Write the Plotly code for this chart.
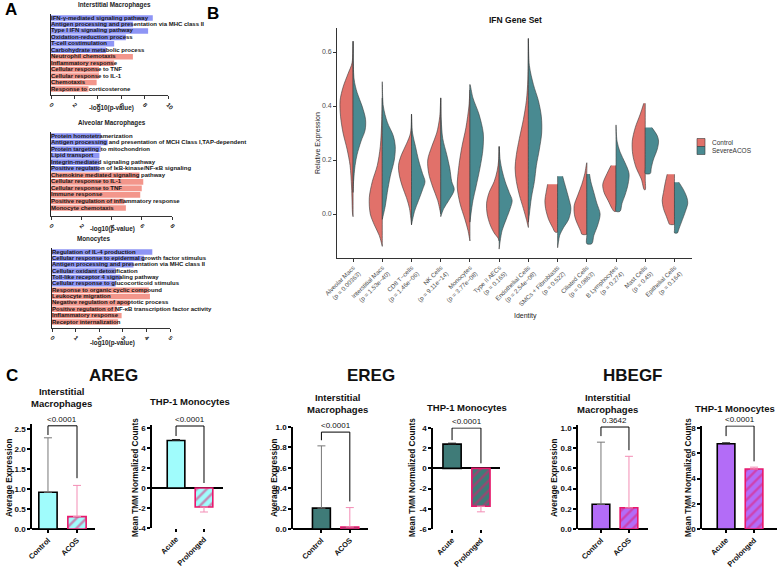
import plotly.graph_objects as go

W, H = 781, 568
FONT = "Liberation Sans, Arial, sans-serif"

def dx(a, b):
    return [a / W, b / W]

def dy(top, bottom):
    return [1 - bottom / H, 1 - top / H]

def px(x):
    return x / W

def py(y):
    return 1 - y / H

# ---------------- Panel A data ----------------
ia_terms = ["IFN-γ-mediated signaling pathway",
            "Antigen processing and presentation via MHC class II",
            "Type I IFN signaling pathway", "Oxidation-reduction process",
            "T-cell costimulation", "Carbohydrate metabolic process",
            "Neutrophil chemotaxis", "Inflammatory response",
            "Cellular response to TNF", "Cellular response to IL-1",
            "Chemotaxis", "Response to corticosterone"]
ia_vals = [8.7, 7.0, 8.3, 6.4, 5.4, 4.7, 7.0, 5.4, 4.1, 4.1, 3.9, 3.2]
ia_group = [0, 0, 0, 0, 0, 0, 1, 1, 1, 1, 1, 1]

aa_terms = ["Protein homotetramerization",
            "Antigen processing and presentation of MCH Class I,TAP-dependent",
            "Protein targeting to mitochondrion", "Lipid transport",
            "Integrin-mediated signaling pathway",
            "Positive regulation of IκB-kinase/NF-κB signaling",
            "Chemokine mediated signaling pathway", "Cellular response to IL-1",
            "Cellular response to TNF", "Immune response",
            "Positive regulation of inflammatory response", "Monocyte chemotaxis"]
aa_vals = [3.3, 3.75, 3.3, 3.2, 3.2, 3.2, 5.85, 6.1, 6.0, 5.9, 4.85, 4.95]
aa_group = [0, 0, 0, 0, 0, 0, 1, 1, 1, 1, 1, 1]

mo_terms = ["Regulation of IL-4 production",
            "Cellular response to epidermal growth factor stimulus",
            "Antigen processing and presentation via MHC class II",
            "Cellular oxidant detoxification",
            "Toll-like receptor 4 signaling pathway",
            "Cellular response to glucocorticoid stimulus",
            "Response to organic cyclic compound", "Leukocyte migration",
            "Negative regulation of apoptotic process",
            "Positive regulation of NF-κB transcription factor activity",
            "Inflammatory response", "Receptor internalization"]
mo_vals = [4.25, 3.9, 3.45, 2.7, 2.9, 2.7, 4.1, 4.15, 3.3, 2.75, 2.95, 2.8]
mo_group = [0, 0, 0, 0, 0, 0, 1, 1, 1, 1, 1, 1]

a_titles = ["Interstitial Macrophages", "Alveolar Macrophages", "Monocytes"]
a_xticks = [[0, 2, 4, 6, 8, 10], [0, 2, 4, 6, 8], [0, 1, 2, 3, 4, 5]]

# ---------------- Panel B data ----------------
cells = ["Alveolar Macs<br>(p = 0.00363)", "Interstitial Macs<br>(p = 1.53e−40)",
         "CD8 T−cells<br>(p = 1.46e−06)", "NK Cells<br>(p = 9.11e−14)",
         "Monocytes<br>(p = 3.77e−08)", "Type II AECs<br>(p = 0.165)",
         "Endothelial Cells<br>(p = 2.54e−08)", "SMCs + Fibroblasts<br>(p = 0.522)",
         "Ciliated Cells<br>(p = 0.0863)", "B Lymphocytes<br>(p = 0.274)",
         "Mast Cells<br>(p = 0.45)", "Epithelial Cells<br>(p = 0.164)"]
groups_b = ["Control", "SevereACOS"]

# density profiles (expression level, relative density) for each half violin
ctrl_y = [
    [0.64, 0.56, 0.52, 0.47, 0.42, 0.36, 0.30, 0.24, 0.18, 0.10, 0.0, -0.01],
    [0.43, 0.35, 0.25, 0.18, 0.12, 0.06, 0.0, -0.04, -0.08, -0.12],
    [0.37, 0.30, 0.26, 0.22, 0.18, 0.14, 0.10, 0.06, 0.02, -0.04],
    [0.43, 0.36, 0.30, 0.25, 0.20, 0.15, 0.10, 0.05, 0.0],
    [0.46, 0.40, 0.32, 0.25, 0.18, 0.10, 0.04, -0.02, -0.06, -0.10],
    [0.25, 0.20, 0.16, 0.12, 0.08, 0.04, 0.0, -0.04, -0.07, -0.09, -0.10],
    [0.65, 0.50, 0.42, 0.35, 0.28, 0.22, 0.17, 0.12, 0.07, 0.02, -0.02, -0.05],
    [0.11, 0.08, 0.05, 0.02, -0.02, -0.05, -0.067],
    [0.19, 0.15, 0.11, 0.07, 0.03, -0.01, -0.04, -0.065, -0.075],
    [0.18, 0.15, 0.11, 0.08, 0.05, 0.02, 0.01],
    [0.41, 0.37, 0.32, 0.27, 0.22, 0.17, 0.13, 0.09],
    [0.147, 0.12, 0.08, 0.05, 0.02, -0.01, -0.03, -0.038],
]
ctrl_d = [
    [0, 1, 5, 10, 13, 12.5, 10, 6, 3, 1.5, 0.5, 0],
    [0, 0.5, 2, 5, 10, 13, 12, 8, 3, 0],
    [0, 1, 5, 10, 13, 12, 9, 5, 2, 0],
    [0, 1, 4, 9, 13, 12, 8, 3, 0],
    [0, 1, 4, 8, 11, 12.7, 10, 5, 2, 0],
    [0, 0.5, 2, 5, 10, 12.6, 12, 9, 5, 1, 0],
    [0, 0.5, 2, 5, 9, 12, 13.3, 12, 9, 5, 2, 0],
    [10, 11.5, 12.7, 12, 9, 5, 2.5],
    [0, 2, 5, 9, 12.7, 12, 9, 6, 5],
    [5, 9, 13.3, 12, 8, 4, 2],
    [1.5, 5, 10, 13, 12.5, 9, 4, 1],
    [7.3, 9, 11, 12.3, 11, 8, 6, 5],
]
sev_y = [
    [0.64, 0.50, 0.45, 0.40, 0.35, 0.31, 0.27, 0.22, 0.18, 0.12, 0.08],
    [0.49, 0.40, 0.34, 0.29, 0.25, 0.20, 0.14, 0.08, 0.03, -0.02],
    [0.37, 0.30, 0.25, 0.20, 0.15, 0.12, 0.09, 0.05, 0.01, -0.04],
    [0.43, 0.35, 0.28, 0.22, 0.17, 0.12, 0.09, 0.05, 0.02, -0.01],
    [0.48, 0.43, 0.37, 0.30, 0.24, 0.17, 0.10, 0.05, 0.0, -0.03],
    [0.25, 0.20, 0.16, 0.12, 0.08, 0.05, 0.02, -0.02, -0.06, -0.10, -0.13],
    [0.65, 0.55, 0.48, 0.42, 0.36, 0.30, 0.24, 0.18, 0.12, 0.06, 0.0, -0.03],
    [0.14, 0.10, 0.06, 0.02, -0.02, -0.05, -0.08, -0.10, -0.125],
    [0.148, 0.12, 0.08, 0.04, 0.0, -0.04, -0.08, -0.11],
    [0.33, 0.27, 0.23, 0.19, 0.15, 0.11, 0.07, 0.04, 0.01],
    [0.32, 0.29, 0.27, 0.24, 0.20, 0.17, 0.15],
    [0.118, 0.09, 0.06, 0.04, 0.01, -0.03, -0.06, -0.07],
]
sev_d = [
    [0, 1, 4, 9, 12.5, 12, 8, 4, 2, 0.5, 0],
    [0, 1, 5, 11, 13, 12, 8, 5, 3, 0],
    [0, 1, 4, 7, 11, 13.5, 11, 7, 3, 0],
    [0, 0.5, 2, 6, 9, 11, 13.5, 8, 3, 0],
    [0, 3, 9, 13.3, 13, 10, 6, 3, 1, 0],
    [0, 1, 3, 6, 10, 13, 11, 7, 3, 1, 0],
    [0, 1, 5, 10, 13, 13.3, 11, 8, 6, 3, 1, 0],
    [5, 8, 11, 13.3, 11, 6, 2, 1, 0],
    [2.7, 4, 7, 10, 13.3, 11, 7, 5],
    [0, 1, 4, 9, 13, 12, 9, 6, 4],
    [6.7, 12, 13.3, 12, 8, 6, 5],
    [4.3, 9, 12.5, 13.3, 11, 7, 4, 3],
]
b_yticks = [0.0, 0.2, 0.4, 0.6]

# ---------------- Panel C data ----------------
genes = ["AREG", "EREG", "HBEGF"]
int_groups = ["Control", "ACOS"]
thp_groups = ["Acute", "Prolonged"]
areg_int_mean = [0.92, 0.31]
areg_int_err = [1.36, 0.78]
areg_thp_mean = [4.75, -1.9]
areg_thp_err = [0.1, 0.5]
ereg_int_mean = [0.205, 0.02]
ereg_int_err = [0.61, 0.19]
ereg_thp_mean = [2.4, -3.75]
ereg_thp_err = [0.1, 0.55]
hbegf_int_mean = [0.245, 0.21]
hbegf_int_err = [0.615, 0.51]
hbegf_thp_mean = [6.75, 4.75]
hbegf_thp_err = [0.08, 0.15]
p_values = ["<0.0001", "<0.0001", "<0.0001", "<0.0001", "0.3642", "<0.0001"]
# bracket: [left leg end, top, right leg end]
brackets = [[2.35, 2.58, 1.27], [5.2, 6.2, 0.5], [0.87, 0.95, 0.27],
            [2.8, 4.0, 0.5], [0.92, 1.01, 0.78], [7.36, 8.16, 5.36]]

# ---------------- styles ----------------
A_BLUE = "#8e95f5"
A_RED = "#f3968b"
V_RED = "#e1716a"
V_TEAL = "#498a91"
PINK = "#e8186c"
PINK_LIGHT = "#f38db5"
GENE_COLORS = {"AREG": "#a0fcfc", "EREG": "#3f7b78", "HBEGF": "#b36cf7"}

fig = go.Figure()
layout = dict(width=W, height=H, margin=dict(l=0, r=0, t=0, b=0, pad=0, autoexpand=False),
              paper_bgcolor="white", plot_bgcolor="white",
              font=dict(family=FONT, color="#111"), showlegend=False)
annotations = []
shapes = []

def note(text, x, y, size, color="#111", angle=0, xanchor="center"):
    annotations.append(dict(text=text, x=px(x), y=py(y), xref="paper", yref="paper",
                            xanchor=xanchor, yanchor="middle", textangle=angle,
                            showarrow=False, font=dict(size=size, color=color, family=FONT)))

# ---------------- Panel A ----------------
a_sets = [(ia_terms, ia_vals, ia_group), (aa_terms, aa_vals, aa_group),
          (mo_terms, mo_vals, mo_group)]
a_xdom = [(51, 168), (51, 172), (52, 170)]
a_ydom = [(14, 95), (132, 216), (248, 328)]
a_rows = [(18, 89), (136, 208), (252, 322)]
a_title_pos = [(114, 5), (112, 123), (93, 239)]
a_xlab_pos = [(111, 108), (112, 229), (112, 343)]
for k, (terms, vals, grp) in enumerate(a_sets):
    n = k + 1
    xa = "x" if n == 1 else f"x{n}"
    ya = "y" if n == 1 else f"y{n}"
    ids = list(range(len(terms)))
    top, bot = a_ydom[k]
    r0, r1 = a_rows[k]
    step = (r1 - r0) / (len(terms) - 1)
    rng = [len(terms) - 1 + (bot - r1) / step, -(r0 - top) / step]
    fig.add_trace(go.Bar(x=vals, y=ids, orientation="h", xaxis=xa, yaxis=ya,
                         marker=dict(color=[A_BLUE if g == 0 else A_RED for g in grp],
                                     line=dict(width=0)),
                         width=0.86, showlegend=False, hoverinfo="skip"))
    fig.add_trace(go.Scatter(x=[0] * len(terms), y=ids, mode="text", text=terms,
                             textposition="middle right", xaxis=xa, yaxis=ya,
                             textfont=dict(size=6, color="#151515", family=FONT, weight="bold"),
                             cliponaxis=False, showlegend=False, hoverinfo="skip"))
    xt = a_xticks[k]
    layout["xaxis" if n == 1 else f"xaxis{n}"] = dict(
        domain=dx(*a_xdom[k]), anchor=ya, range=[0, xt[-1]], tickvals=xt,
        showline=True, linecolor="#333", linewidth=1, ticks="outside", ticklen=3,
        tickwidth=1, tickcolor="#333", tickangle=45, automargin=False,
        tickfont=dict(size=6, family=FONT, color="#222", weight="bold"),
        showgrid=False, zeroline=False)
    layout["yaxis" if n == 1 else f"yaxis{n}"] = dict(
        domain=dy(top, bot), anchor=xa, range=rng, showticklabels=False,
        showline=True, linecolor="#222", linewidth=1.3, ticks="", automargin=False,
        showgrid=False, zeroline=False)
    note("<b>" + a_titles[k] + "</b>", a_title_pos[k][0], a_title_pos[k][1], 6.3, "#222")
    note("<b>-log10(p-value)</b>", a_xlab_pos[k][0], a_xlab_pos[k][1], 6.3, "#222")

# ---------------- Panel B ----------------
VSCALE = 0.455 / 13.3
for i in range(len(cells)):
    for side, ys, ds, col in [(-1, ctrl_y[i], ctrl_d[i], V_RED),
                              (1, sev_y[i], sev_d[i], V_TEAL)]:
        xs = [i + side * d * VSCALE for d in ds] + [i] * len(ys)
        yy = list(ys) + list(ys[::-1])
        fig.add_trace(go.Scatter(x=xs, y=yy, mode="lines", fill="toself",
                                 fillcolor=col, line=dict(color="#3a3a3a", width=0.6,
                                                          shape="spline", smoothing=0.9),
                                 xaxis="x4", yaxis="y4", showlegend=False,
                                 hoverinfo="skip"))
layout["xaxis4"] = dict(domain=dx(337, 692), anchor="y4", range=[-0.55, 11.6],
                        tickvals=list(range(len(cells))), ticktext=cells, tickangle=-45,
                        tickfont=dict(size=6.2, color="#4d4d4d", family=FONT),
                        showline=True, linecolor="#333", linewidth=0.8, ticks="outside",
                        ticklen=3, tickcolor="#333", tickwidth=0.8, showgrid=False,
                        zeroline=False, automargin=False)
layout["yaxis4"] = dict(domain=dy(28, 258), anchor="x4", range=[-0.163, 0.689],
                        tickvals=b_yticks, ticktext=[f"{v:.1f}" for v in b_yticks],
                        tickfont=dict(size=7, color="#4d4d4d", family=FONT),
                        showline=True, linecolor="#333", linewidth=0.8, ticks="outside",
                        ticklen=3, tickcolor="#333", tickwidth=0.8, showgrid=False,
                        zeroline=False, automargin=False)
# legend keys
for j, (g, col) in enumerate(zip(groups_b, [V_RED, V_TEAL])):
    y0 = 138.5 + 8 * j
    shapes.append(dict(type="rect", xref="paper", yref="paper", x0=px(697), x1=px(705),
                       y0=py(y0 + 8), y1=py(y0), fillcolor=col,
                       line=dict(color="#3a3a3a", width=0.6)))
    note(g, 710, y0 + 4, 6.5, "#333", xanchor="left")
note("<b>IFN Gene Set</b>", 487, 20, 8.5, "#111", xanchor="left")
note("Relative Expression", 318, 143, 7, "#222", angle=-90)
note("Identity", 525, 316, 7, "#222")

# ---------------- Panel C ----------------
c_sets = [
    ("AREG", int_groups, areg_int_mean, areg_int_err, [0, 2.62], [0, 0.5, 1.0, 1.5, 2.0, 2.5], 1, (32, 95), (424.2, 529), [-0.55, 1.62]),
    ("AREG", thp_groups, areg_thp_mean, areg_thp_err, [-4, 6.3], [-4, -2, 0, 2, 4, 6], 0, (152, 223), (425, 528), [-0.86, 1.68]),
    ("EREG", int_groups, ereg_int_mean, ereg_int_err, [0, 1.0], [0, 0.2, 0.4, 0.6, 0.8, 1.0], 1, (293, 368), (427, 529), [-1.0, 1.64]),
    ("EREG", thp_groups, ereg_thp_mean, ereg_thp_err, [-6, 4.05], [-6, -4, -2, 0, 2, 4], 0, (433, 500), (427.5, 529), [-0.66, 1.66]),
    ("HBEGF", int_groups, hbegf_int_mean, hbegf_int_err, [0, 1.03], [0, 0.2, 0.4, 0.6, 0.8, 1.0], 1, (578, 648), (425, 529), [-0.82, 1.68]),
    ("HBEGF", thp_groups, hbegf_thp_mean, hbegf_thp_err, [0, 8.2], [0, 2, 4, 6, 8], 0, (702, 777), (425.5, 529), [-0.86, 1.82]),
]
for k, (gene, groups, means, errs, yr, yt, dec, xdm, ydm, xr) in enumerate(c_sets):
    n = 5 + k
    xa, ya = f"x{n}", f"y{n}"
    base = GENE_COLORS[gene]
    for j in range(2):
        up = means[j] >= 0
        if j == 0:
            marker = dict(color=base, line=dict(color="black", width=1.6))
            ecol = "#777777" if k % 2 == 0 else "#222222"
        else:
            marker = dict(color=base, line=dict(color=PINK, width=1.6),
                          pattern=dict(shape="/", fgcolor=PINK, bgcolor=base,
                                       size=7, solidity=0.35, fillmode="overlay"))
            ecol = PINK_LIGHT
        fig.add_trace(go.Bar(x=[j], y=[means[j]], width=0.63, marker=marker,
                             xaxis=xa, yaxis=ya, showlegend=False, hoverinfo="skip",
                             error_y=dict(type="data", symmetric=False,
                                          array=[errs[j] if up else 0],
                                          arrayminus=[0 if up else errs[j]],
                                          color=ecol, thickness=1, width=4)))
    b = brackets[k]
    fig.add_trace(go.Scatter(x=[0, 0, 1, 1], y=[b[0], b[1], b[1], b[2]], mode="lines",
                             line=dict(color="black", width=1), xaxis=xa, yaxis=ya,
                             cliponaxis=False, showlegend=False, hoverinfo="skip"))
    annotations.append(dict(text=p_values[k], x=0.5, y=b[1], xref=xa, yref=ya,
                            xanchor="center", yanchor="bottom", yshift=0, showarrow=False,
                            font=dict(size=8, color="#111", family=FONT)))
    layout[f"xaxis{n}"] = dict(domain=dx(*xdm), anchor=ya, range=xr, tickvals=[0, 1],
                               ticktext=groups, tickangle=-45, showline=False,
                               ticks="outside", ticklen=3, tickwidth=1.5, tickcolor="black",
                               tickfont=dict(size=7.5, family=FONT, color="#111", weight="bold"),
                               showgrid=False, zeroline=False, automargin=False)
    layout[f"yaxis{n}"] = dict(domain=dy(*ydm), anchor=xa, range=yr, tickvals=yt,
                               ticktext=[f"{v:.{dec}f}" for v in yt],
                               showline=True, linecolor="black", linewidth=1.5,
                               ticks="outside", ticklen=3, tickwidth=1.5, tickcolor="black",
                               tickfont=dict(size=8, family=FONT, color="#111", weight="bold"),
                               showgrid=False, zeroline=True, zerolinecolor="black",
                               zerolinewidth=1.5, automargin=False)

gene_pos = [(113, 375), (371, 375), (633, 375)]
for g, (x, y) in zip(genes, gene_pos):
    note(f"<b>{g}</b>", x, y, 17)
sub_titles = [("Interstitial<br>Macrophages", 62, 397), ("THP-1 Monocytes", 190, 402),
              ("Interstitial<br>Macrophages", 337, 403), ("THP-1 Monocytes", 467, 407),
              ("Interstitial<br>Macrophages", 607, 403), ("THP-1 Monocytes", 735, 408)]
for t, x, y in sub_titles:
    note(f"<b>{t}</b>", x, y, 9.5)
ytitles = [("Average Expression", 9, 478), ("Mean TMM Normalized Counts", 135, 478),
           ("Average Expression", 274, 478), ("Mean TMM Normalized Counts", 412, 478),
           ("Average Expression", 554, 478), ("Mean TMM Normalized Counts", 688, 478)]
for t, x, y in ytitles:
    note(f"<b>{t}</b>", x, y, 8.2, angle=-90)

for t, x, y in [("A", 11, 10), ("B", 213, 13), ("C", 12, 375)]:
    note(f"<b>{t}</b>", x, y, 17, "#000")

layout["annotations"] = annotations
layout["shapes"] = shapes
fig.update_layout(**layout)
fig.write_html("out.html", config={"displayModeBar": False},
               post_script="document.body.style.margin='0px';")
